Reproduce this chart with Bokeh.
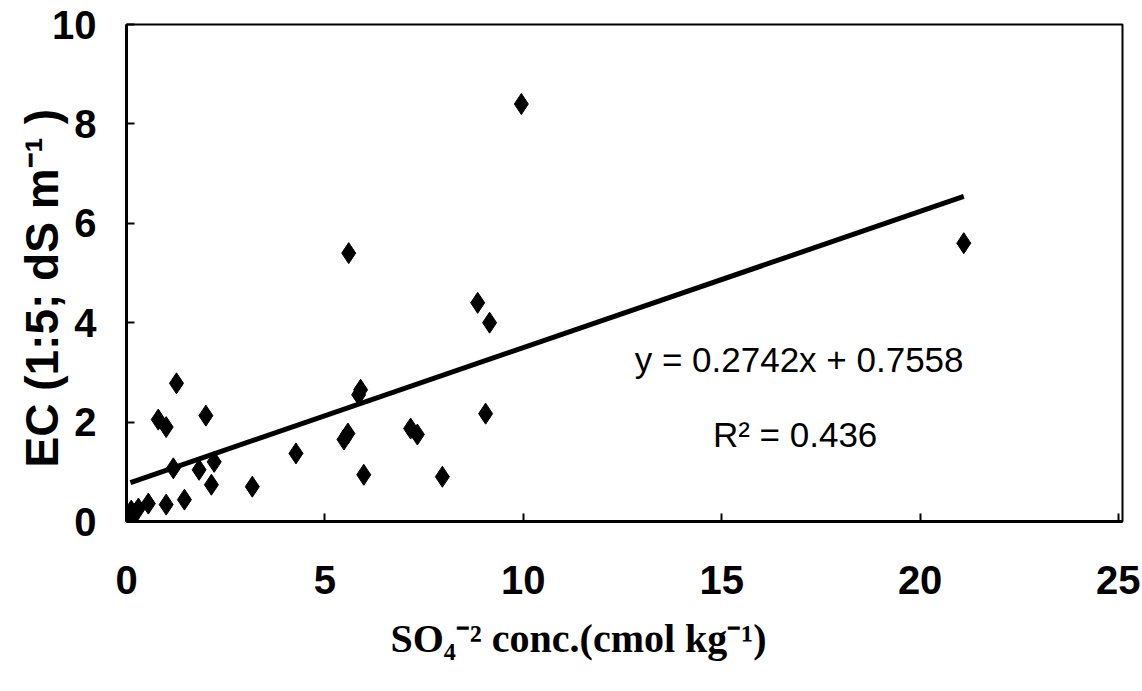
import numpy as np
from bokeh.plotting import figure
from bokeh.models import Label, Range1d, ColumnDataSource, FixedTicker, Title
from bokeh.embed import file_html
from bokeh.resources import INLINE

# SO4 concentration (cmol/kg) and EC (1:5; dS/m)
so4 = [9.95, 21.1, 5.6, 8.85, 9.15, 5.85, 5.9, 1.26, 0.8, 1.0, 2.0, 9.05,
       5.58, 5.48, 7.16, 7.33, 4.27, 1.18, 1.83, 2.21, 2.14, 3.17, 5.98,
       7.96, 1.46, 1.0, 0.55, 0.3, 0.2, 0.15, 0.12, 0.1]
ec = [8.4, 5.6, 5.4, 4.4, 4.0, 2.55, 2.65, 2.78, 2.05, 1.9, 2.13, 2.17,
      1.77, 1.65, 1.87, 1.75, 1.37, 1.07, 1.04, 1.2, 0.74, 0.7, 0.94,
      0.9, 0.44, 0.34, 0.36, 0.26, 0.16, 0.08, 0.22, 0.12]

slope = 0.2742
intercept = 0.7558
r_squared = 0.436

x_ticks = [0, 5, 10, 15, 20, 25]
y_ticks = [0, 2, 4, 6, 8, 10]

eq_text = "y = 0.2742x + 0.7558"
r2_text = "R² = 0.436"
x_title = "SO₄⁻² conc.(cmol kg⁻¹)"
y_title = "EC (1:5; dS m⁻¹ )"

SANS = "'Liberation Sans', Arial, sans-serif"
SERIF = "'Liberation Serif', 'Times New Roman', serif"

p = figure(width=1140, height=691, output_backend="svg", toolbar_location=None,
           x_range=Range1d(0, 25.1), y_range=Range1d(0, 10),
           min_border_left=126, min_border_right=18, min_border_top=24,
           min_border_bottom=170)

p.xgrid.visible = False
p.ygrid.visible = False
p.outline_line_color = "black"
p.outline_line_width = 2
p.background_fill_color = "white"
p.border_fill_color = "white"

for ax in (p.xaxis, p.yaxis):
    ax.axis_line_color = "black"
    ax.axis_line_width = 3
    ax.major_tick_in = 8
    ax.major_tick_out = 0
    ax.major_tick_line_width = 2
    ax.major_tick_line_color = "black"
    ax.minor_tick_line_color = None
    ax.major_label_text_font = SANS
    ax.major_label_text_font_style = "bold"
    ax.major_label_text_font_size = "40px"
    ax.major_label_text_color = "black"

p.xaxis.ticker = FixedTicker(ticks=x_ticks)
p.yaxis.ticker = FixedTicker(ticks=y_ticks)
p.xaxis.major_label_standoff = 44
p.yaxis.major_label_standoff = 30

# regression line
x_line = np.array([min(so4), max(so4)])
y_line = slope * x_line + intercept
p.line(x_line, y_line, line_color="black", line_width=5)

src = ColumnDataSource(dict(x=so4, y=ec))
p.scatter("x", "y", source=src, marker="diamond", size=21,
          fill_color="black", line_color="black")

p.add_layout(Label(x=16.95, y=3.25, text=eq_text, text_align="center",
                   text_baseline="middle", text_font=SANS,
                   text_font_size="35px", text_color="black"))
p.add_layout(Label(x=16.85, y=1.75, text=r2_text, text_align="center",
                   text_baseline="middle", text_font=SANS,
                   text_font_size="35px", text_color="black"))

p.add_layout(Title(text=y_title, align="left", offset=54, standoff=-36,
                   text_font=SANS, text_font_style="bold",
                   text_font_size="46px", text_color="black"), "left")
p.add_layout(Title(text=x_title, align="left", offset=264, standoff=34,
                   text_font=SERIF, text_font_style="bold",
                   text_font_size="40px", text_color="black"), "below")

open("out.html", "w").write(file_html(p, INLINE))
